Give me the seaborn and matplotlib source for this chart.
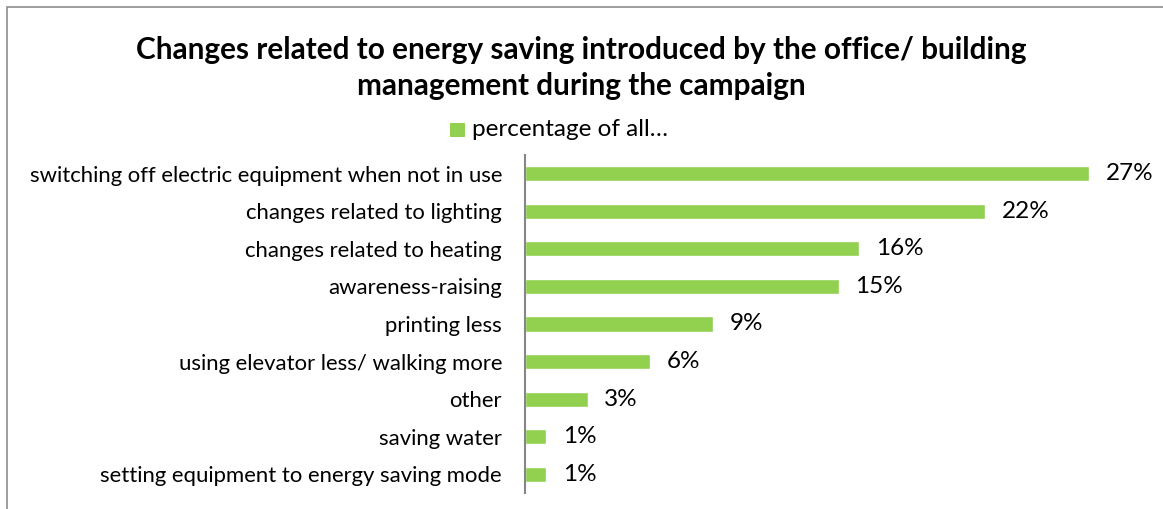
import matplotlib
matplotlib.use("Agg")
import matplotlib.pyplot as plt
import matplotlib.patches as mpatches
import seaborn as sns
import pandas as pd

categories = [
    "switching off electric equipment when not in use",
    "changes related to lighting",
    "changes related to heating",
    "awareness-raising",
    "printing less",
    "using elevator less/ walking more",
    "other",
    "saving water",
    "setting equipment to energy saving mode",
]
values = [27, 22, 16, 15, 9, 6, 3, 1, 1]
series_name = "percentage of all…"
title_lines = [
    "Changes related to energy saving introduced by the office/ building",
    "management during the campaign",
]

GREEN = "#92D050"
W, H = 1163, 509

sns.set_theme(style="white")
plt.rcParams["font.family"] = ["Lato", "DejaVu Sans"]

fig = plt.figure(figsize=(W / 100, H / 100), dpi=100)
ax = fig.add_axes([525 / W, 16 / H, 627 / W, 338 / H])

df = pd.DataFrame({"category": categories, "value": values})
sns.barplot(data=df, x="value", y="category", orient="h", color=GREEN,
            width=0.4, saturation=1, ax=ax)

ax.set_xlim(0, 30)
ax.set_ylim(len(categories) - 0.5, -0.5)
ax.set_xlabel("")
ax.set_ylabel("")
ax.set_xticks([])
for side in ("top", "right", "bottom"):
    ax.spines[side].set_visible(False)
ax.spines["left"].set_color("#868686")
ax.spines["left"].set_linewidth(1.5)
ax.tick_params(axis="y", length=0, pad=16.5, labelsize=15.9, labelcolor="#000000")

ax.bar_label(ax.containers[0], labels=[f"{v}%" for v in values],
             padding=12, fontsize=17.5, color="#000000")

# chart title
fig.text(0.5, 1 - 50 / H, title_lines[0], ha="center", va="center",
         fontsize=21.4, fontweight="bold", color="#000000")
fig.text(0.5, 1 - 86 / H, title_lines[1], ha="center", va="center",
         fontsize=21.4, fontweight="bold", color="#000000")

# legend
fig.patches.append(mpatches.Rectangle((450 / W, 1 - 137 / H), 15 / W, 14 / H,
                                      transform=fig.transFigure,
                                      facecolor=GREEN, edgecolor="none"))
fig.text(472 / W, 1 - 130 / H, series_name, ha="left", va="center",
         fontsize=17.5, color="#000000")

# chart area frame
fig.patches.append(mpatches.Rectangle((7 / W, -0.1), 1.2, 1.1 - 7 / H,
                                      transform=fig.transFigure,
                                      facecolor="none", edgecolor="#8c8c8c",
                                      linewidth=1.2))

fig.savefig("out.png", dpi=100)
